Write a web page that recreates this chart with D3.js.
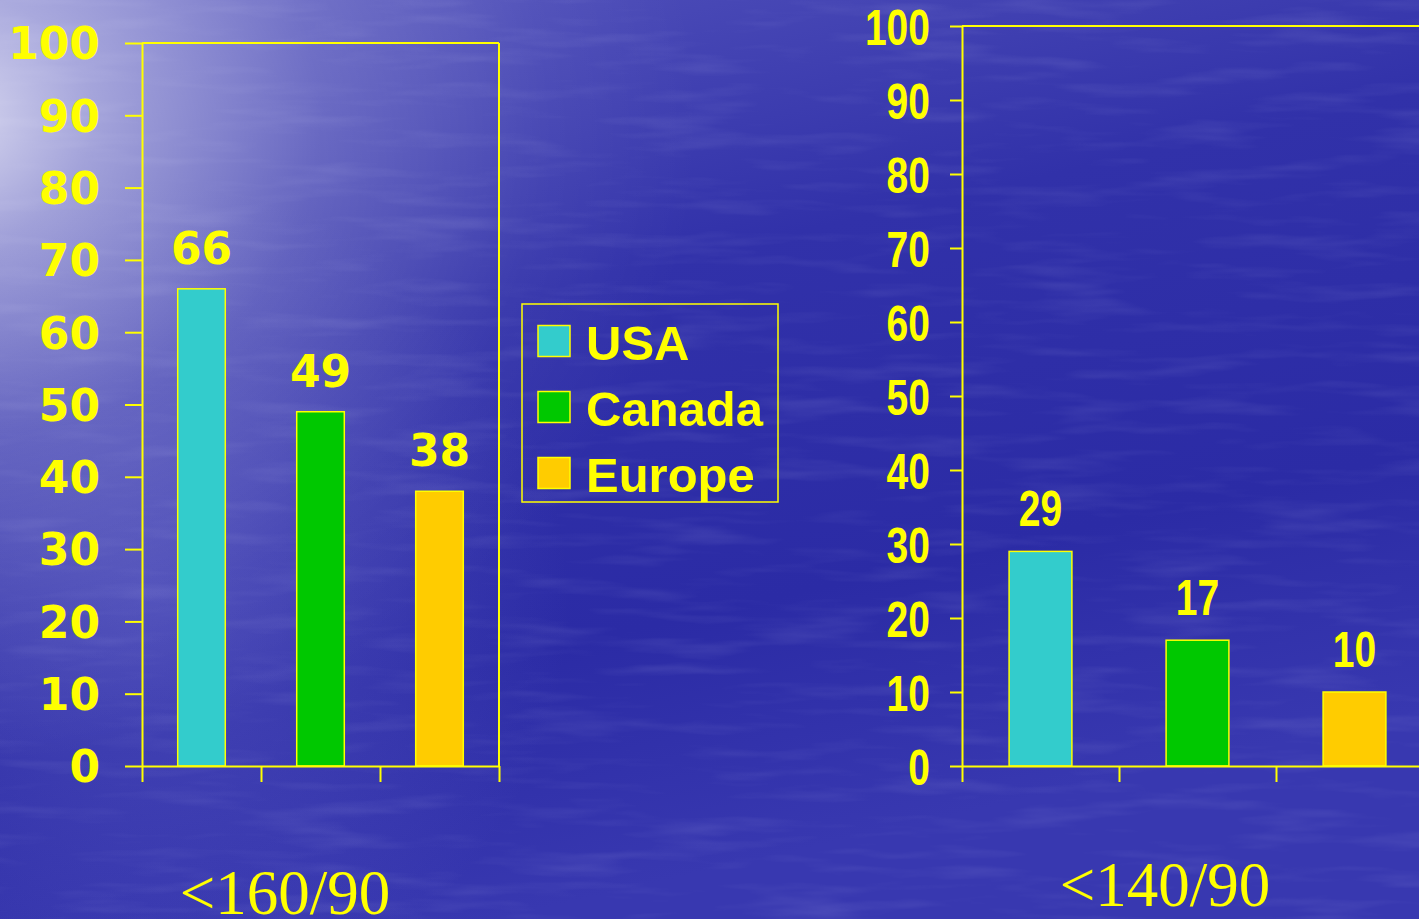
<!DOCTYPE html>
<html>
<head>
<meta charset="utf-8">
<script src="https://cdn.jsdelivr.net/npm/d3@7"></script>
<style>
html,body{margin:0;padding:0;background:#2f2fa8;overflow:hidden;}
svg{display:block;}
</style>
</head>
<body>
<svg id="chart" width="1419" height="919"></svg>
<script>
// ---- data ----
const categories = ["USA", "Canada", "Europe"];
const colors = ["#33CCCC", "#00C800", "#FFCC00"];
const leftValues = [66, 49, 38];
const rightValues = [29, 17, 10];
const panelTitles = ["<160/90", "<140/90"];
const yTicks = [0, 10, 20, 30, 40, 50, 60, 70, 80, 90, 100];

const YELLOW = "#FFFF00";
const svg = d3.select("#chart");
const W = 1419, H = 919;

// ---- background ----
const defs = svg.append("defs");
const lg = defs.append("linearGradient").attr("id", "bgv").attr("x1", 0).attr("y1", 0).attr("x2", 0.35).attr("y2", 1);
lg.append("stop").attr("offset", "0").attr("stop-color", "#5656bd");
lg.append("stop").attr("offset", "0.4").attr("stop-color", "#3131a9");
lg.append("stop").attr("offset", "0.75").attr("stop-color", "#2b2ba5");
lg.append("stop").attr("offset", "1").attr("stop-color", "#3838b0");
const rg = defs.append("radialGradient").attr("id", "glow")
  .attr("gradientUnits", "userSpaceOnUse").attr("cx", -60).attr("cy", 120).attr("r", 760)
  .attr("gradientTransform", "translate(-60,120) scale(1,0.85) translate(60,-120)");
rg.append("stop").attr("offset", "0").attr("stop-color", "#ffffff").attr("stop-opacity", 0.8);
rg.append("stop").attr("offset", "0.2").attr("stop-color", "#ffffff").attr("stop-opacity", 0.5);
rg.append("stop").attr("offset", "0.5").attr("stop-color", "#ffffff").attr("stop-opacity", 0.2);
rg.append("stop").attr("offset", "0.8").attr("stop-color", "#ffffff").attr("stop-opacity", 0.05);
rg.append("stop").attr("offset", "1").attr("stop-color", "#ffffff").attr("stop-opacity", 0);
const rg2 = defs.append("radialGradient").attr("id", "glow2")
  .attr("gradientUnits", "userSpaceOnUse").attr("cx", 150).attr("cy", 600).attr("r", 420);
rg2.append("stop").attr("offset", "0").attr("stop-color", "#8c8ce0").attr("stop-opacity", 0.3);
rg2.append("stop").attr("offset", "1").attr("stop-color", "#8c8ce0").attr("stop-opacity", 0);

const f = defs.append("filter").attr("id", "water").attr("x", 0).attr("y", 0).attr("width", 1).attr("height", 1);
f.append("feTurbulence").attr("type", "fractalNoise").attr("baseFrequency", "0.008 0.06")
  .attr("numOctaves", 3).attr("seed", 7).attr("result", "noise");
f.append("feColorMatrix").attr("in", "noise").attr("type", "matrix")
  .attr("values", "0 0 0 0 0.75  0 0 0 0 0.75  0 0 0 0 1  1.6 0 0 0 -0.78");

svg.append("rect").attr("width", W).attr("height", H).attr("fill", "url(#bgv)");
svg.append("rect").attr("width", W).attr("height", H).attr("filter", "url(#water)").attr("opacity", 0.14);
svg.append("rect").attr("width", W).attr("height", H).attr("fill", "url(#glow2)");
svg.append("rect").attr("width", W).attr("height", H).attr("fill", "url(#glow)");

// narrow text helper (no condensed font installed): squeeze glyphs to target width
function narrow(sel, perChar) {
  sel.each(function () {
    const t = d3.select(this);
    const n = (t.text() || "").length;
    if (n) t.attr("textLength", n * perChar).attr("lengthAdjust", "spacingAndGlyphs");
  });
}

// ---- panels ----
function panel(cfg) {
  const g = svg.append("g");
  const x = d3.scaleBand().domain(categories).range([cfg.x0, cfg.x1]).paddingInner(0.6).paddingOuter(0.3);
  const xb = d3.scaleLinear().domain([0, categories.length]).range([cfg.x0, cfg.x1]);
  const y = d3.scaleLinear().domain([0, 100]).range([cfg.yBottom, cfg.yTop]);

  // frame: top & right
  g.append("line").attr("x1", cfg.x0).attr("x2", cfg.frameRight).attr("y1", y(100)).attr("y2", y(100))
    .attr("stroke", YELLOW).attr("stroke-width", cfg.sw);
  if (cfg.x1 < W) {
    g.append("line").attr("x1", cfg.x1).attr("x2", cfg.x1).attr("y1", y(100)).attr("y2", y(0))
      .attr("stroke", YELLOW).attr("stroke-width", cfg.sw);
  }

  // bars
  g.selectAll("rect.bar").data(cfg.values).join("rect").attr("class", "bar")
    .attr("x", (d, i) => x(categories[i])).attr("width", x.bandwidth())
    .attr("y", d => y(d)).attr("height", d => y(0) - y(d))
    .attr("fill", (d, i) => colors[i]).attr("stroke", YELLOW).attr("stroke-width", 1.5);

  // value labels
  const vl = g.selectAll("text.val").data(cfg.values).join("text").attr("class", "val")
    .attr("x", (d, i) => x(categories[i]) + x.bandwidth() / 2).attr("y", d => y(d) - 25)
    .attr("text-anchor", "middle").attr("fill", YELLOW)
    .style("font-family", cfg.font).style("font-weight", "bold").style("font-size", cfg.fs + "px")
    .text(d => d);
  if (cfg.perChar) narrow(vl, cfg.perChar);

  // y axis
  const ya = g.append("g").attr("transform", `translate(${cfg.x0},0)`)
    .call(d3.axisLeft(y).tickValues(yTicks).tickSize(cfg.tickLen).tickPadding(cfg.tickPad).tickSizeOuter(0));
  ya.select(".domain").attr("stroke", YELLOW).attr("stroke-width", cfg.sw);
  ya.selectAll(".tick line").attr("stroke", YELLOW).attr("stroke-width", cfg.sw);
  const tt = ya.selectAll(".tick text").attr("fill", YELLOW)
    .style("font-family", cfg.font).style("font-weight", "bold").style("font-size", cfg.fs + "px")
    .attr("dy", "0.36em");
  if (cfg.perChar) narrow(tt, cfg.perChar);

  // x axis (boundary ticks only)
  const xa = g.append("g").attr("transform", `translate(0,${y(0)})`)
    .call(d3.axisBottom(xb).tickValues(d3.range(categories.length + 1)).tickSize(16).tickFormat("").tickSizeOuter(0));
  xa.select(".domain").attr("stroke", YELLOW).attr("stroke-width", cfg.sw);
  xa.selectAll(".tick line").attr("stroke", YELLOW).attr("stroke-width", cfg.sw);

  // category title
  g.append("text").attr("x", cfg.titleX).attr("y", cfg.titleY).attr("text-anchor", "middle")
    .attr("fill", YELLOW).style("font-family", "'Liberation Serif','Times New Roman',serif")
    .style("font-size", "63px").text(cfg.title);
}

panel({
  x0: 142, x1: 499, frameRight: 499, yTop: 43, yBottom: 766, values: leftValues,
  font: "'DejaVu Sans', Verdana, sans-serif", fs: 44, tickLen: 17, tickPad: 25, sw: 2,
  title: panelTitles[0], titleX: 285, titleY: 914
});
panel({
  x0: 962, x1: 1433, frameRight: W, yTop: 26, yBottom: 766, values: rightValues,
  font: "'Liberation Sans', Arial, sans-serif", fs: 50, perChar: 21.7, tickLen: 12, tickPad: 20, sw: 2,
  title: panelTitles[1], titleX: 1165, titleY: 906
});

// ---- legend ----
const leg = svg.append("g");
leg.append("rect").attr("x", 522).attr("y", 304).attr("width", 256).attr("height", 198)
  .attr("fill", "none").attr("stroke", YELLOW).attr("stroke-width", 1.5);
const rows = leg.selectAll("g.row").data(categories).join("g").attr("class", "row")
  .attr("transform", (d, i) => `translate(538,${341 + i * 66})`);
rows.append("rect").attr("x", 0).attr("y", -15.5).attr("width", 32).attr("height", 31)
  .attr("fill", (d, i) => colors[i]).attr("stroke", YELLOW).attr("stroke-width", 1.5);
rows.append("text").attr("x", 48).attr("y", 19).attr("fill", YELLOW)
  .style("font-family", "'Liberation Sans', Arial, sans-serif").style("font-weight", "bold")
  .style("font-size", "49px").text(d => d);
</script>
</body>
</html>
